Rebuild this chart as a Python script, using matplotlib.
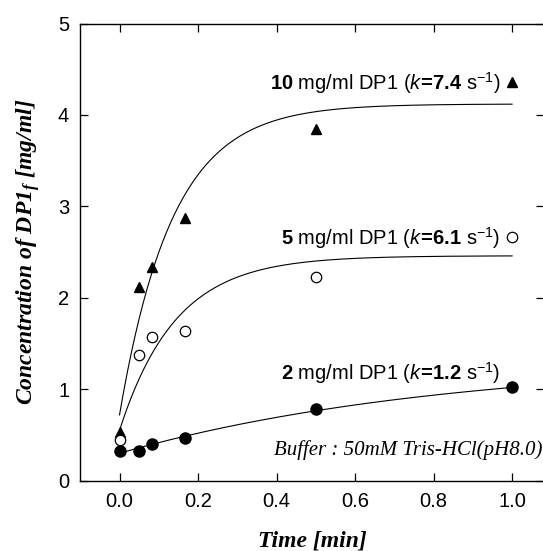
import numpy as np
import matplotlib
matplotlib.use("Agg")
import matplotlib.pyplot as plt

plt.rcParams['font.family'] = ['Liberation Sans', 'DejaVu Sans']
plt.rcParams['mathtext.fontset'] = 'custom'
plt.rcParams['mathtext.rm'] = 'Liberation Sans'
plt.rcParams['mathtext.it'] = 'Liberation Sans:italic'
plt.rcParams['mathtext.bf'] = 'Liberation Sans:bold'
plt.rcParams['mathtext.bfit'] = 'Liberation Serif:italic:bold'

# ---- data ----
time_min = [0.0, 0.05, 0.083, 0.167, 0.5, 1.0]
conc_10 = [0.53, 2.12, 2.34, 2.87, 3.85, 4.36]
conc_5 = [0.44, 1.37, 1.57, 1.64, 2.23, 2.66]
conc_2 = [0.32, 0.33, 0.40, 0.47, 0.78, 1.02]

# fitted first-order curves: plateau, start value, rate (per min)
fit_plateau = [4.12, 2.46, 1.33]
fit_start = [0.72, 0.55, 0.30]
fit_rate = [7.4, 7.0, 1.2]

labels_conc = ['10', '5', '2']
labels_k = ['7.4', '6.1', '1.2']
label_y = [4.27, 2.58, 1.10]

xticks = [0.0, 0.2, 0.4, 0.6, 0.8, 1.0]
yticks = [0, 1, 2, 3, 4, 5]

fig = plt.figure(figsize=(5.43, 5.51), dpi=100)
ax = fig.add_axes([80.25 / 543, 1 - 480.7 / 551, (543.5 - 80.25) / 543, (480.7 - 23.5) / 551])

t = np.linspace(0, 1, 300)
for A, y0, k in zip(fit_plateau, fit_start, fit_rate):
    ax.plot(t, A - (A - y0) * np.exp(-k * t), color='black', lw=0.8, zorder=2)

ax.plot(time_min, conc_10, ls='none', marker='^', ms=7.5, mfc='black', mec='black', zorder=3)
ax.plot(time_min, conc_5, ls='none', marker='o', ms=7.5, mfc='white', mec='black', mew=0.9, zorder=3)
ax.plot(time_min, conc_2, ls='none', marker='o', ms=8, mfc='black', mec='black', zorder=3)

for c, kk, y in zip(labels_conc, labels_k, label_y):
    s = r'$\mathbf{' + c + r'}$ mg/ml DP1 ($\mathit{k}$$\mathbf{\!=\!' + kk + r'}$ s$^{-1}$)'
    ax.text(0.97, y, s, ha='right', va='baseline', fontsize=14.5, color='black')

ax.text(1.077, 0.28, 'Buffer : 50mM Tris-HCl(pH8.0)', ha='right', va='baseline',
        fontsize=15, family='Liberation Serif', style='italic')

ax.set_xlim(-0.1, 1.08)
ax.set_ylim(0, 5)
ax.set_xticks(xticks)
ax.set_xticklabels(['%.1f' % v for v in xticks])
ax.set_yticks(yticks)
ax.tick_params(direction='in', length=6, width=0.9, top=True, right=True,
               labelsize=14.5, pad=8)
for sp in ax.spines.values():
    sp.set_linewidth(1.0)

ax.set_xlabel('Time [min]', family='Liberation Serif', weight='bold', style='italic',
              fontsize=17, labelpad=14)
ax.set_ylabel(r'Concentration of DP1$_{\mathbfit{f}}$ [mg/ml]', family='Liberation Serif',
              weight='bold', style='italic', fontsize=17, labelpad=11)

fig.savefig('out.png', dpi=100)
